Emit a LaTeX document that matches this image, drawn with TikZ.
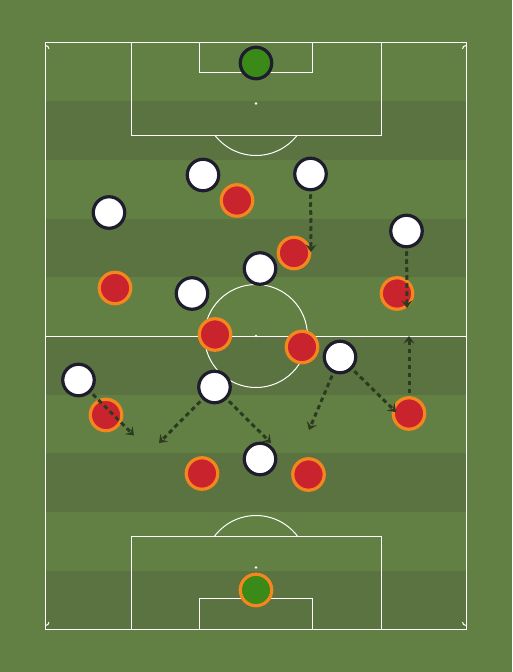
\documentclass[tikz,border=0pt]{standalone}
\usetikzlibrary{arrows.meta,shadows}
\definecolor{pitchlight}{RGB}{99,128,68}
\definecolor{pitchdark}{RGB}{90,115,64}
\definecolor{navy}{RGB}{30,29,46}
\definecolor{teamred}{RGB}{201,36,45}
\definecolor{teamorange}{RGB}{245,134,30}
\definecolor{gkgreen}{RGB}{59,138,23}
\definecolor{arrowgreen}{RGB}{44,58,33}
\tikzset{
  pline/.style={draw=white, line width=1pt},
  player/.style={circle, minimum size=31.5pt, inner sep=0pt, outer sep=0pt, line width=3.2pt,
    drop shadow={shadow xshift=0.6pt, shadow yshift=-1.4pt, opacity=0.25, fill=black}},
  wp/.style={player, draw=navy, fill=white},
  rp/.style={player, draw=teamorange, fill=teamred},
  gktop/.style={player, draw=navy, fill=gkgreen},
  gkbot/.style={player, draw=teamorange, fill=gkgreen},
  run/.style={draw=arrowgreen, line width=3pt, dash pattern=on 4.5pt off 3.5pt,
    shorten <=4.5pt, -{Stealth[length=7.5pt,width=11pt,inset=3pt]}}
}
\begin{document}
\begin{tikzpicture}[x=1pt,y=-1pt]
\useasboundingbox (0,0) rectangle (512,672);
\fill[pitchlight] (0,0) rectangle (512,672);
% stripes
\foreach \a/\b in {101/160,218.5/277,336/394.5,453/512,570.5/629}
  \fill[pitchdark] (45.5,\a) rectangle (466,\b);
% pitch markings
\draw[pline] (45.5,42) rectangle (466,629);
\draw[pline] (45.5,336) -- (466,336);
\draw[pline] (256,336) circle (51.5);
\fill[white] (256,336) circle (1.3);
% top
\draw[pline] (131.5,42) rectangle (381,135.5);
\draw[pline] (199.5,42) rectangle (312,72.5);
\fill[white] (256,103.5) circle (1.3);
\begin{scope}
\clip (131.5,135.5) rectangle (381,200);
\draw[pline] (256,103.5) circle (52);
\end{scope}
% bottom
\draw[pline] (131.5,536) rectangle (381,629);
\draw[pline] (199.5,598.5) rectangle (312,629);
\fill[white] (256,567.5) circle (1.3);
\begin{scope}
\clip (131.5,536) rectangle (381,480);
\draw[pline] (256,567.5) circle (52);
\end{scope}
% corner arcs
\draw[pline] (45.5,45.5) arc[start angle=-90, end angle=0, radius=3.5];
\draw[pline] (466,45.5) arc[start angle=270, end angle=180, radius=3.5];
\draw[pline] (45.5,625.5) arc[start angle=90, end angle=0, radius=3.5];
\draw[pline] (466,625.5) arc[start angle=90, end angle=180, radius=3.5];
% goalkeepers
\node[gktop] (gk1) at (256,63) {};
\node[gkbot] (gk2) at (256,590) {};
% red team
\node[rp] (r1) at (237,200.5) {};
\node[rp] (r2) at (294,253) {};
\node[rp] (r3) at (115,288) {};
\node[rp] (r4) at (397,293.5) {};
\node[rp] (r5) at (215,334.5) {};
\node[rp] (r6) at (302,347) {};
\node[rp] (r7) at (106,415) {};
\node[rp] (r8) at (409,413.5) {};
\node[rp] (r9) at (202,473.5) {};
\node[rp] (r10) at (308.5,474.5) {};
% white team
\node[wp] (w1) at (203,175) {};
\node[wp] (w2) at (310.5,174) {};
\node[wp] (w3) at (109,212.5) {};
\node[wp] (w4) at (406.5,231) {};
\node[wp] (w5) at (260,268.5) {};
\node[wp] (w6) at (192,293.5) {};
\node[wp] (w7) at (340,357) {};
\node[wp] (w8) at (78.5,380) {};
\node[wp] (w9) at (214.5,387) {};
\node[wp] (w10) at (260,459) {};
% run targets
\coordinate (t1) at (311,252);
\coordinate (t2) at (407,308);
\coordinate (t3) at (409,336);
\coordinate (t4) at (134,435.5);
\coordinate (t5) at (159,443);
\coordinate (t6) at (271,443);
\coordinate (t7) at (309,430);
\coordinate (t8) at (396,412);
% runs
\draw[run] (w2) -- (t1);
\draw[run] (w4) -- (t2);
\draw[run] (r8) -- (t3);
\draw[run] (w8) -- (t4);
\draw[run] (w9) -- (t5);
\draw[run] (w9) -- (t6);
\draw[run] (w7) -- (t7);
\draw[run] (w7) -- (t8);
\end{tikzpicture}
\end{document}
